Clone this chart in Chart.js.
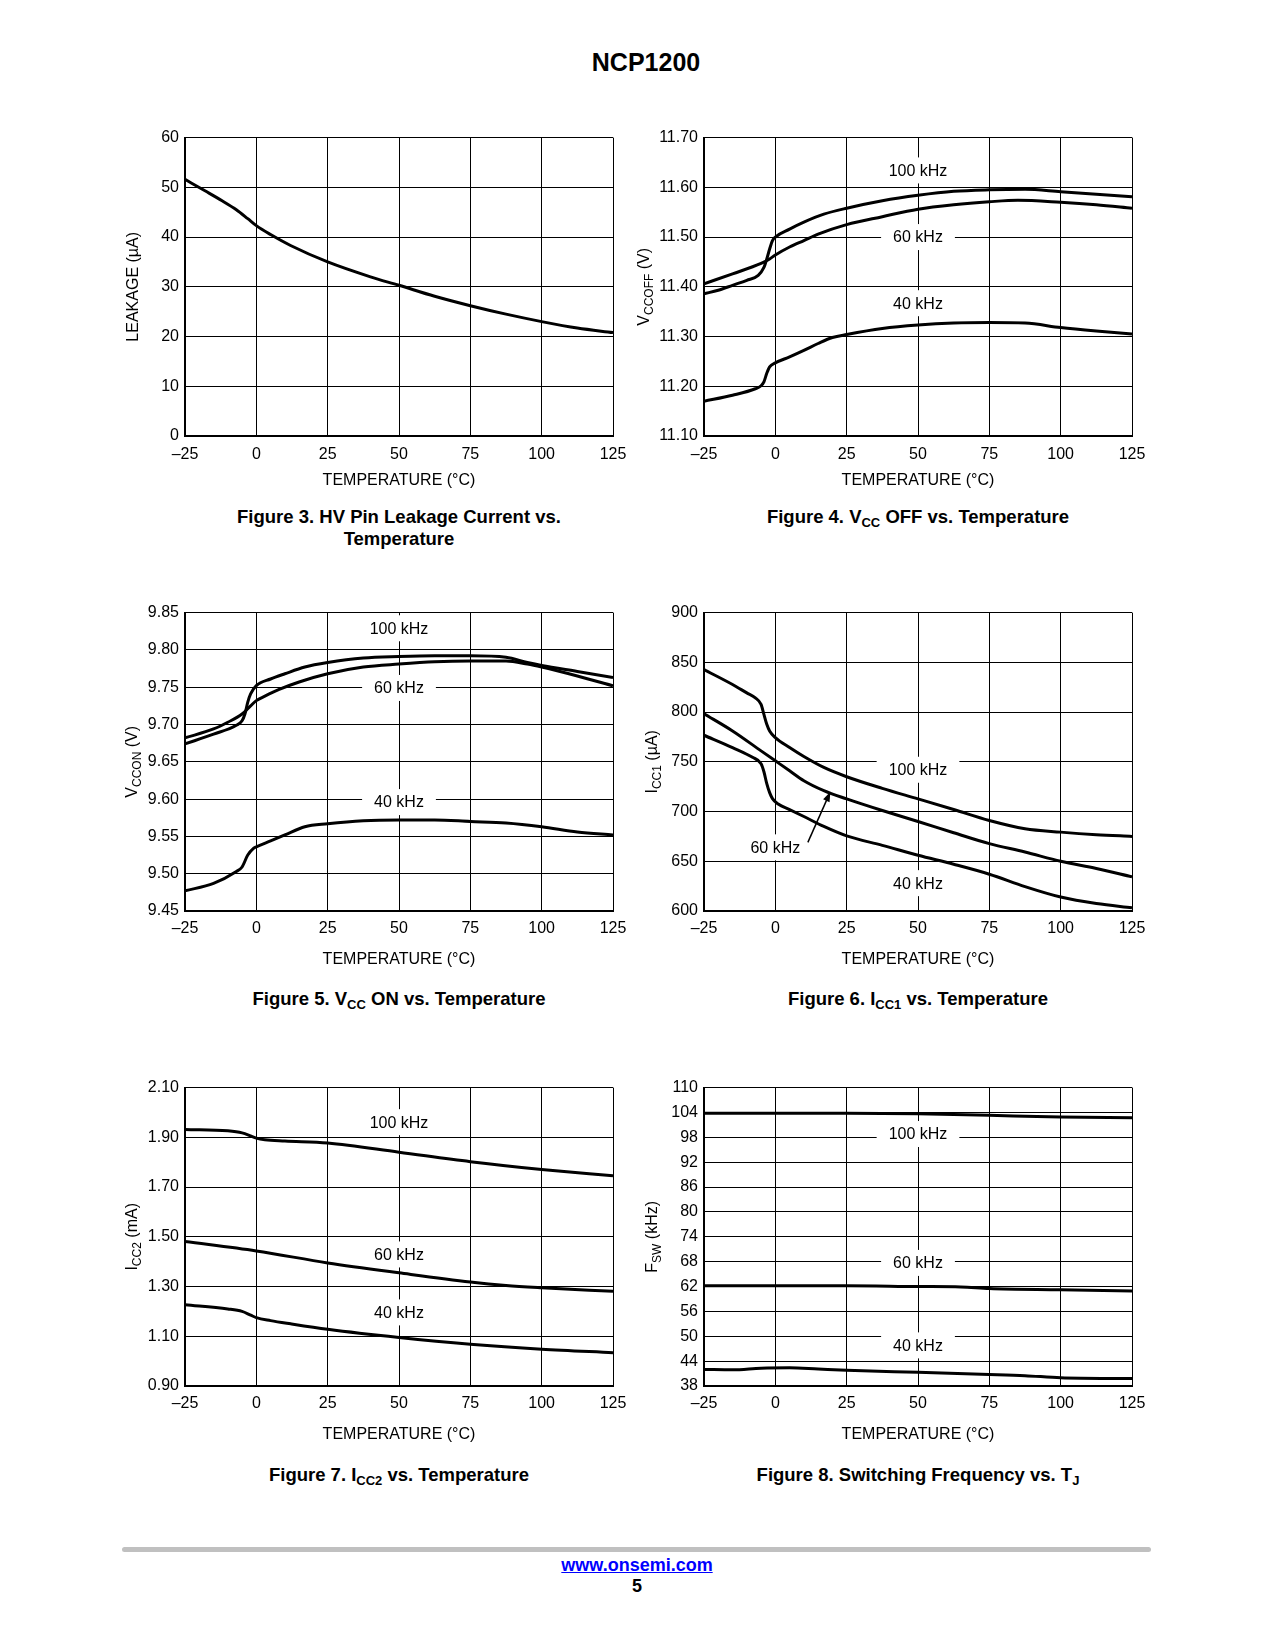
<!DOCTYPE html>
<html>
<head>
<meta charset="utf-8">
<script src="https://cdn.jsdelivr.net/npm/chart.js@4.4.1/dist/chart.umd.min.js"></script>
<style>
  body { margin: 0; background: #fff; font-family: "Liberation Sans", Arial, sans-serif; color: #000; }
  #page { position: relative; width: 1275px; height: 1650px; overflow: hidden; }
  .plot { position: absolute; }
  .plot canvas { display: block; }
  .txt { position: absolute; text-align: center; white-space: nowrap; }
  .cap { font-weight: bold; font-size: 18.5px; line-height: 22px; width: 520px; }
  .cap sub { font-size: 13px; vertical-align: -4px; line-height: 0; }
</style>
</head>
<body>
<div id="page">
  <div class="txt" style="left:546px; top:47px; width:200px; font-weight:bold; font-size:25px; line-height:30px;">NCP1200</div>

  <div class="txt cap" style="left:139px; top:506px;">Figure 3. HV Pin Leakage Current vs.<br>Temperature</div>
  <div class="txt cap" style="left:658px; top:506px;">Figure 4. V<sub>CC</sub> OFF vs. Temperature</div>
  <div class="txt cap" style="left:139px; top:988px;">Figure 5. V<sub>CC</sub> ON vs. Temperature</div>
  <div class="txt cap" style="left:658px; top:988px;">Figure 6. I<sub>CC1</sub> vs. Temperature</div>
  <div class="txt cap" style="left:139px; top:1464px;">Figure 7. I<sub>CC2</sub> vs. Temperature</div>
  <div class="txt cap" style="left:658px; top:1464px;">Figure 8. Switching Frequency vs. T<sub>J</sub></div>

  <div style="position:absolute; left:122px; top:1547px; width:1029px; height:5px; background:#c0c0c0; border-radius:3px;"></div>
  <div class="txt" style="left:487px; top:1554px; width:300px; font-weight:bold; font-size:18px; line-height:22px;"><span style="color:#0000ff; text-decoration:underline;">www.onsemi.com</span></div>
  <div class="txt" style="left:587px; top:1575px; width:100px; font-weight:bold; font-size:18px; line-height:22px;">5</div>
</div>

<script>
// ---- shared axis ----
const tempTicks = [-25, 0, 25, 50, 75, 100, 125];
const tempTickLabels = ['–25', '0', '25', '50', '75', '100', '125'];

// ---- Figure 3: HV pin leakage ----
const leakTickLabels = ['0', '10', '20', '30', '40', '50', '60'];
const leakT  = [-25, -18, -12, -7, -3, 0, 5, 12, 25, 40, 50, 62.5, 75, 87.5, 100, 112.5, 125];
const leakUA = [51.6, 49.3, 47.3, 45.5, 43.7, 42.3, 40.5, 38.3, 35.0, 32.0, 30.3, 28.1, 26.2, 24.5, 23.0, 21.7, 20.8];

// ---- Figure 4: Vcc OFF ----
const vOffTickLabels = ['11.10', '11.20', '11.30', '11.40', '11.50', '11.60', '11.70'];
const vOffT100 = [-25, -20, -15, -10, -6, -4, -3, -2, -1, 0, 5, 10, 17, 25, 37.5, 50, 62.5, 75, 87.5, 100, 112.5, 125];
const vOff100  = [11.386, 11.393, 11.403, 11.413, 11.423, 11.439, 11.456, 11.476, 11.493, 11.500, 11.516, 11.530, 11.546, 11.558, 11.573, 11.584, 11.592, 11.595, 11.596, 11.591, 11.586, 11.581];
const vOffT60 = [-25, -15, -5, -2, 0, 5, 10, 15, 25, 37.5, 50, 62.5, 75, 85, 100, 112.5, 125];
const vOff60  = [11.406, 11.426, 11.447, 11.456, 11.464, 11.480, 11.493, 11.506, 11.525, 11.541, 11.556, 11.565, 11.571, 11.574, 11.570, 11.565, 11.558];
const vOffT40 = [-25, -15, -7, -5, -4, -3, -2, 0, 5, 10, 15, 20, 25, 37.5, 50, 62.5, 75, 87.5, 100, 112.5, 125];
const vOff40  = [11.170, 11.182, 11.195, 11.201, 11.209, 11.226, 11.239, 11.247, 11.259, 11.272, 11.286, 11.298, 11.304, 11.316, 11.323, 11.327, 11.328, 11.327, 11.318, 11.311, 11.305];

// ---- Figure 5: Vcc ON ----
const vOnTickLabels = ['9.45', '9.50', '9.55', '9.60', '9.65', '9.70', '9.75', '9.80', '9.85'];
const vOnT100 = [-25, -15, -7, -5, -4, -3, -2, 0, 5, 10, 17, 25, 37.5, 50, 62.5, 75, 87.5, 95, 100, 112.5, 125];
const vOn100  = [9.674, 9.687, 9.699, 9.705, 9.714, 9.730, 9.741, 9.752, 9.761, 9.768, 9.777, 9.783, 9.789, 9.791, 9.792, 9.792, 9.790, 9.783, 9.779, 9.771, 9.763];
const vOnT60 = [-25, -15, -10, -5, -2, 0, 3, 8, 15, 25, 37.5, 50, 62.5, 75, 87.5, 95, 100, 112.5, 125];
const vOn60  = [9.682, 9.694, 9.703, 9.714, 9.725, 9.732, 9.738, 9.747, 9.757, 9.768, 9.777, 9.781, 9.784, 9.785, 9.785, 9.781, 9.777, 9.765, 9.752];
const vOnT40 = [-25, -15, -7, -5, -3, -1, 0, 5, 10, 17, 25, 37.5, 50, 62.5, 75, 87.5, 100, 112.5, 125];
const vOn40  = [9.477, 9.487, 9.503, 9.509, 9.525, 9.534, 9.536, 9.544, 9.552, 9.563, 9.567, 9.571, 9.572, 9.572, 9.570, 9.568, 9.563, 9.556, 9.552];

// ---- Figure 6: Icc1 ----
const icc1TickLabels = ['600', '650', '700', '750', '800', '850', '900'];
const icc1T100 = [-25, -15, -10, -7, -5, -4, -3, -2, 0, 5, 10, 17, 25, 37.5, 50, 62.5, 75, 87.5, 100, 112.5, 125];
const icc1_100 = [842.7, 827.7, 819.3, 814.3, 807.7, 797.7, 787.7, 781.0, 774.3, 764.3, 755.3, 744.3, 735.0, 723.3, 712.7, 702.0, 691.0, 682.7, 679.3, 676.7, 675.0];
const icc1T60 = [-25, -15, -5, 0, 5, 10, 17, 25, 37.5, 50, 62.5, 75, 87.5, 100, 112.5, 125];
const icc1_60 = [798.3, 781.0, 761.0, 751.0, 741.0, 731.0, 721.0, 712.7, 701.0, 690.0, 678.7, 667.7, 659.3, 650.0, 642.7, 634.3];
const icc1T40 = [-25, -15, -8, -5, -4, -3, -2, -1, 1, 5, 10, 17, 25, 37.5, 50, 62.5, 75, 87.5, 100, 112.5, 125];
const icc1_40 = [776.7, 764.3, 754.5, 748.0, 740.0, 728.0, 719.0, 713.0, 707.5, 702.0, 695.0, 685.0, 675.5, 666.0, 656.0, 647.0, 637.0, 624.5, 614.0, 607.5, 603.3];

// ---- Figure 7: Icc2 ----
const icc2TickLabels = ['0.90', '1.10', '1.30', '1.50', '1.70', '1.90', '2.10'];
const icc2T100 = [-25, -10, -5, -2, 0, 3, 10, 25, 50, 75, 100, 125];
const icc2_100 = [1.932, 1.926, 1.918, 1.906, 1.897, 1.890, 1.885, 1.877, 1.840, 1.802, 1.771, 1.745];
const icc2T60 = [-25, 0, 25, 50, 75, 87.5, 100, 125];
const icc2_60 = [1.481, 1.443, 1.395, 1.355, 1.318, 1.304, 1.295, 1.281];
const icc2T40 = [-25, -10, -5, -2, 0, 5, 12, 25, 50, 75, 100, 125];
const icc2_40 = [1.227, 1.210, 1.200, 1.185, 1.175, 1.163, 1.150, 1.128, 1.095, 1.068, 1.048, 1.034];

// ---- Figure 8: switching frequency ----
const fswTickLabels = ['38', '44', '50', '56', '62', '68', '74', '80', '86', '92', '98', '104', '110'];
const fswT100 = [-25, 0, 25, 50, 75, 100, 125];
const fsw100  = [103.8, 103.8, 103.8, 103.7, 103.3, 102.9, 102.7];
const fswT60 = [-25, 0, 25, 50, 65, 75, 100, 125];
const fsw60  = [62.2, 62.2, 62.2, 62.0, 61.9, 61.5, 61.2, 60.9];
const fswT40 = [-25, -15, -5, 5, 15, 25, 50, 75, 87.5, 100, 125];
const fsw40  = [42.0, 41.9, 42.3, 42.4, 42.1, 41.8, 41.3, 40.8, 40.5, 40.0, 39.8];

// in-plot curve labels: [text, temperature, value]
const vOffNotes = [['100 kHz', 50, 11.634], ['60 kHz', 50, 11.50], ['40 kHz', 50, 11.367]];
const vOnNotes  = [['100 kHz', 50, 9.829], ['60 kHz', 50, 9.749], ['40 kHz', 50, 9.596]];
const icc1Notes = [['100 kHz', 50, 742], ['60 kHz', 0, 664], ['40 kHz', 50, 628]];
const icc2Notes = [['100 kHz', 50, 1.961], ['60 kHz', 50, 1.429], ['40 kHz', 50, 1.196]];
const fswNotes  = [['100 kHz', 50, 98.8], ['60 kHz', 50, 67.7], ['40 kHz', 50, 47.8]];
const icc1Arrow = [[11.4, 669], [19.3, 720]];

// ---- layout ----
const FONT = '"Liberation Sans", Arial, sans-serif';
const PLOT_W = 428, PLOT_H = 299;
const COLS = [185, 704];
const ROWS = [137, 612, 1087];
const PADL = 80, PADT = 15, PADR = 30, PADB = 60;

Chart.defaults.font.family = FONT;
Chart.defaults.font.size = 16;
Chart.defaults.color = '#000';

function drawRich(ctx, parts, x, y) {
  // parts: [text, isSub]; drawn rotated, centred on (x, y)
  ctx.save();
  ctx.translate(x, y);
  ctx.rotate(-Math.PI / 2);
  let w = 0;
  for (const [t, sub] of parts) {
    ctx.font = (sub ? '12px ' : '16px ') + FONT;
    w += ctx.measureText(t).width;
  }
  let cx = -w / 2;
  ctx.textBaseline = 'alphabetic';
  ctx.textAlign = 'left';
  ctx.fillStyle = '#000';
  for (const [t, sub] of parts) {
    ctx.font = (sub ? '12px ' : '16px ') + FONT;
    ctx.fillText(t, cx, sub ? 9.5 : 5.8);
    cx += ctx.measureText(t).width;
  }
  ctx.restore();
}

function textPlugin(spec) {
  return {
    id: 'pageText',
    beforeDatasetsDraw(chart) {
      const { ctx, scales: { x, y } } = chart;
      ctx.save();
      ctx.font = '16px ' + FONT;
      ctx.textAlign = 'center';
      ctx.textBaseline = 'middle';
      for (const [t, tx, ty] of spec.notes || []) {
        const px = x.getPixelForValue(tx), py = y.getPixelForValue(ty);
        const w = ctx.measureText(t).width + 24;
        ctx.fillStyle = '#fff';
        ctx.fillRect(px - w / 2, py - 13, w, 26);
        ctx.fillStyle = '#000';
        ctx.fillText(t, px, py + 1);
      }
      ctx.restore();
    },
    afterDraw(chart) {
      const { ctx, chartArea: a, scales: { x, y } } = chart;
      if (spec.arrow) {
        const [p0, p1] = spec.arrow;
        const x0 = x.getPixelForValue(p0[0]), y0 = y.getPixelForValue(p0[1]);
        const x1 = x.getPixelForValue(p1[0]), y1 = y.getPixelForValue(p1[1]);
        const ang = Math.atan2(y1 - y0, x1 - x0);
        ctx.save();
        ctx.strokeStyle = '#000';
        ctx.fillStyle = '#000';
        ctx.lineWidth = 1.5;
        ctx.beginPath();
        ctx.moveTo(x0, y0);
        ctx.lineTo(x1 - 6 * Math.cos(ang), y1 - 6 * Math.sin(ang));
        ctx.stroke();
        ctx.beginPath();
        ctx.moveTo(x1, y1);
        ctx.lineTo(x1 - 10 * Math.cos(ang) + 3.5 * Math.sin(ang), y1 - 10 * Math.sin(ang) - 3.5 * Math.cos(ang));
        ctx.lineTo(x1 - 10 * Math.cos(ang) - 3.5 * Math.sin(ang), y1 - 10 * Math.sin(ang) + 3.5 * Math.cos(ang));
        ctx.closePath();
        ctx.fill();
        ctx.restore();
      }
      // axis titles
      drawRich(ctx, spec.yTitle, a.left - spec.yTitleOff, (a.top + a.bottom) / 2);
      ctx.save();
      ctx.font = '16px ' + FONT;
      ctx.textAlign = 'center';
      ctx.textBaseline = 'middle';
      ctx.fillStyle = '#000';
      ctx.fillText('TEMPERATURE (°C)', (a.left + a.right) / 2, a.bottom + spec.xTitleGap);
      ctx.restore();
    }
  };
}

function makeChart(spec) {
  const div = document.createElement('div');
  div.className = 'plot';
  const left = COLS[spec.col] - PADL, top = ROWS[spec.row] - PADT;
  const W = PLOT_W + PADL + PADR, H = PLOT_H + PADT + PADB;
  div.style.left = left + 'px';
  div.style.top = top + 'px';
  const cv = document.createElement('canvas');
  cv.width = W; cv.height = H;
  cv.style.width = W + 'px'; cv.style.height = H + 'px';
  div.appendChild(cv);
  document.getElementById('page').appendChild(div);

  const yVals = spec.yLabels.map(parseFloat);
  new Chart(cv, {
    type: 'line',
    data: {
      datasets: spec.series.map(([xs, ys]) => ({
        data: xs.map((t, i) => ({ x: t, y: ys[i] })),
        borderColor: '#000',
        borderWidth: 3,
        pointRadius: 0,
        fill: false,
        cubicInterpolationMode: 'monotone'
      }))
    },
    options: {
      responsive: false,
      animation: false,
      devicePixelRatio: 1,
      layout: { padding: { top: PADT, right: PADR, left: 0, bottom: 0 } },
      plugins: { legend: { display: false }, tooltip: { enabled: false } },
      scales: {
        x: {
          type: 'linear', min: -25, max: 125,
          afterBuildTicks: s => { s.ticks = tempTicks.map(v => ({ value: v })); },
          afterFit: s => { s.height = PADB; },
          ticks: { autoSkip: false, maxRotation: 0, padding: spec.tickPad, callback: (v, i) => tempTickLabels[i] },
          grid: { color: '#000', lineWidth: 1, drawTicks: false },
          border: { color: '#000', width: 2 }
        },
        y: {
          type: 'linear', min: yVals[0], max: yVals[yVals.length - 1],
          afterBuildTicks: s => { s.ticks = yVals.map(v => ({ value: v })); },
          afterFit: s => { s.width = PADL; },
          ticks: { autoSkip: false, padding: 6, callback: (v, i) => spec.yLabels[i] },
          grid: { color: '#000', lineWidth: 1, drawTicks: false },
          border: { color: '#000', width: 2 }
        }
      }
    },
    plugins: [textPlugin(spec)]
  });
}

makeChart({ col: 0, row: 0, yLabels: leakTickLabels, series: [[leakT, leakUA]],
  yTitle: [['LEAKAGE (µA)', 0]], yTitleOff: 53, xTitleGap: 45, tickPad: 9 });
makeChart({ col: 1, row: 0, yLabels: vOffTickLabels,
  series: [[vOffT100, vOff100], [vOffT60, vOff60], [vOffT40, vOff40]], notes: vOffNotes,
  yTitle: [['V', 0], ['CCOFF', 1], [' (V)', 0]], yTitleOff: 61, xTitleGap: 45, tickPad: 9 });
makeChart({ col: 0, row: 1, yLabels: vOnTickLabels,
  series: [[vOnT100, vOn100], [vOnT60, vOn60], [vOnT40, vOn40]], notes: vOnNotes,
  yTitle: [['V', 0], ['CCON', 1], [' (V)', 0]], yTitleOff: 54, xTitleGap: 49, tickPad: 8 });
makeChart({ col: 1, row: 1, yLabels: icc1TickLabels,
  series: [[icc1T100, icc1_100], [icc1T60, icc1_60], [icc1T40, icc1_40]], notes: icc1Notes, arrow: icc1Arrow,
  yTitle: [['I', 0], ['CC1', 1], [' (µA)', 0]], yTitleOff: 53, xTitleGap: 49, tickPad: 8 });
makeChart({ col: 0, row: 2, yLabels: icc2TickLabels,
  series: [[icc2T100, icc2_100], [icc2T60, icc2_60], [icc2T40, icc2_40]], notes: icc2Notes,
  yTitle: [['I', 0], ['CC2', 1], [' (mA)', 0]], yTitleOff: 54, xTitleGap: 49, tickPad: 8 });
makeChart({ col: 1, row: 2, yLabels: fswTickLabels,
  series: [[fswT100, fsw100], [fswT60, fsw60], [fswT40, fsw40]], notes: fswNotes,
  yTitle: [['F', 0], ['SW', 1], [' (kHz)', 0]], yTitleOff: 53, xTitleGap: 49, tickPad: 8 });
</script>
</body>
</html>
